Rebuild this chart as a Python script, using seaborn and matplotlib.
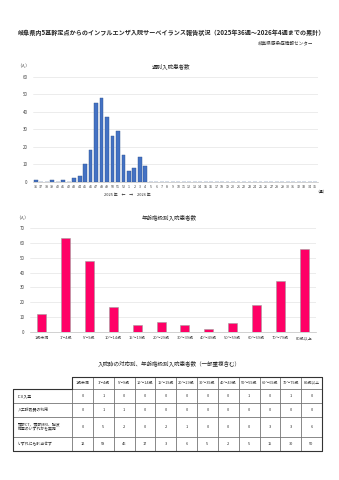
import matplotlib
matplotlib.use("Agg")
import matplotlib.pyplot as plt
import seaborn as sns
import pandas as pd

# ---------------- data ----------------
weeks = [str(w) for w in range(36, 53)] + [str(w) for w in range(1, 36)]
week_counts = [1, 0, 0, 1, 0, 1, 0, 2, 3, 10, 18, 45, 48, 37, 26, 29, 15,
               6, 8, 14, 9] + [0] * 31

age_groups = ["1歳未満", "1～4歳", "5～9歳", "10～14歳", "15～19歳", "20～29歳",
              "30～39歳", "40～49歳", "50～59歳", "60～69歳", "70～79歳", "80歳以上"]
age_counts = [12, 63, 48, 17, 5, 7, 5, 2, 6, 18, 34, 56]

row_labels = ["ICU入室", "人工呼吸器の利用", "頭部CT、頭部MRI、脳波\n検査のいずれかを実施", "いずれにも該当せず"]
icu = [0, 1, 0, 0, 0, 0, 0, 0, 1, 0, 1, 0]
ventilator = [0, 1, 1, 0, 0, 0, 0, 0, 0, 0, 0, 0]
ct_mri_eeg = [0, 5, 2, 0, 2, 1, 0, 0, 0, 3, 3, 6]
none_apply = [12, 58, 46, 17, 3, 6, 5, 2, 5, 15, 30, 50]

title = "岐阜県内5基幹定点からのインフルエンザ入院サーベイランス報告状況（2025年36週～2026年4週までの累計）"
source = "岐阜県感染症情報センター"

# ---------------- style ----------------
sns.set_style("white")
plt.rcParams["font.family"] = ["Noto Sans CJK JP", "DejaVu Sans"]

W, H = 339, 480
fig = plt.figure(figsize=(W / 100, H / 100), dpi=100)

def ax_rect(x0, y0, x1, y1):
    return [x0 / W, 1 - y1 / H, (x1 - x0) / W, (y1 - y0) / H]

def ftext(x, y, s, **kw):
    fig.text(x / W, 1 - y / H, s, **kw)

ftext(171, 32, title, ha="center", va="center", fontsize=4.4, fontweight="bold")
ftext(313, 43, source, ha="right", va="center", fontsize=3.3)

grid_col = "#E4E4E4"

# ---------------- weekly chart ----------------
ax1 = fig.add_axes(ax_rect(33, 77, 318, 181.5))
df_w = pd.DataFrame({"week": weeks, "count": week_counts})
sns.barplot(data=df_w, x="week", y="count", order=weeks, color="#4472C4",
            saturation=1, width=0.7, edgecolor="#2F528F", linewidth=0.3, ax=ax1)
ax1.set_ylim(0, 60)
ax1.set_yticks(range(0, 61, 10))
ax1.set_xlabel("")
ax1.set_ylabel("")
ax1.yaxis.grid(True, color=grid_col, linewidth=0.5)
ax1.set_axisbelow(True)
for s in ["top", "right", "left"]:
    ax1.spines[s].set_visible(False)
ax1.spines["bottom"].set_color("#BFBFBF")
ax1.spines["bottom"].set_linewidth(0.5)
ax1.tick_params(axis="y", length=0, labelsize=3.2, pad=4, labelcolor="#404040")
ax1.tick_params(axis="x", length=1, width=0.3, color="#BFBFBF", labelsize=2.6,
                pad=1.5, labelcolor="#404040")
ftext(23, 66, "（人）", ha="center", va="center", fontsize=3.0)
ftext(171, 67, "週別入院患者数", ha="center", va="center", fontsize=4.0)
ftext(127, 195, "2025 年　←　→　2026 年", ha="center", va="center", fontsize=2.8)
ftext(321, 192, "（週）", ha="center", va="center", fontsize=2.8)

# ---------------- age chart ----------------
ax2 = fig.add_axes(ax_rect(30, 228, 316, 332))
df_a = pd.DataFrame({"age": age_groups, "count": age_counts})
sns.barplot(data=df_a, x="age", y="count", order=age_groups, color="#FF0066",
            saturation=1, width=0.38, edgecolor="#9E9E9E", linewidth=0.4, ax=ax2)
ax2.set_ylim(0, 70)
ax2.set_yticks(range(0, 71, 10))
ax2.set_xlabel("")
ax2.set_ylabel("")
ax2.yaxis.grid(True, color=grid_col, linewidth=0.5)
ax2.set_axisbelow(True)
for s in ["top", "right", "left"]:
    ax2.spines[s].set_visible(False)
ax2.spines["bottom"].set_color("#BFBFBF")
ax2.spines["bottom"].set_linewidth(0.5)
ax2.tick_params(axis="y", length=0, labelsize=3.2, pad=4, labelcolor="#404040")
ax2.tick_params(axis="x", length=1.2, width=0.3, color="#BFBFBF", labelsize=2.9,
                pad=2, labelcolor="#404040")
ftext(22, 218, "（人）", ha="center", va="center", fontsize=3.0)
ftext(169, 218, "年齢階級別入院患者数", ha="center", va="center", fontsize=4.0)

# ---------------- table ----------------
ftext(169, 364, "入院時の対応別、年齢階級別入院患者数（一部重複含む）",
      ha="center", va="center", fontsize=4.0)

ax3 = fig.add_axes(ax_rect(13, 377, 322, 451))
ax3.axis("off")
rows = [icu, ventilator, ct_mri_eeg, none_apply]
cell_text = [[""] + age_groups] + [[lab] + [str(v) for v in r] for lab, r in zip(row_labels, rows)]
label_w = 59.0
col_w = (309.0 - label_w) / 12
col_widths = [label_w / 309.0] + [col_w / 309.0] * 12
tbl = ax3.table(cellText=cell_text, colWidths=col_widths, cellLoc="center",
                bbox=[0, 0, 1, 1])
tbl.auto_set_font_size(False)
row_h = [12, 14, 14, 20, 14]
tot = sum(row_h)
for (r, c), cell in tbl.get_celld().items():
    cell.set_height(row_h[r] / tot)
    cell.set_linewidth(0.4)
    cell.set_edgecolor("#555555")
    cell.get_text().set_fontsize(2.8)
    if c == 0:
        cell.get_text().set_ha("left")
        cell._loc = "left"
        cell.PAD = 0.08
    if r == 0 and c == 0:
        cell.visible_edges = ""
# outer border (thicker)
ax3.plot([label_w / 309.0, 1, 1, 0, 0, label_w / 309.0],
         [1, 1, 0, 0, 1 - row_h[0] / tot, 1 - row_h[0] / tot],
         color="#333333", linewidth=0.8, transform=ax3.transAxes, clip_on=False)
ax3.plot([label_w / 309.0, label_w / 309.0], [1, 1 - row_h[0] / tot],
         color="#333333", linewidth=0.8, transform=ax3.transAxes, clip_on=False)

fig.savefig("out.png", dpi=100)
